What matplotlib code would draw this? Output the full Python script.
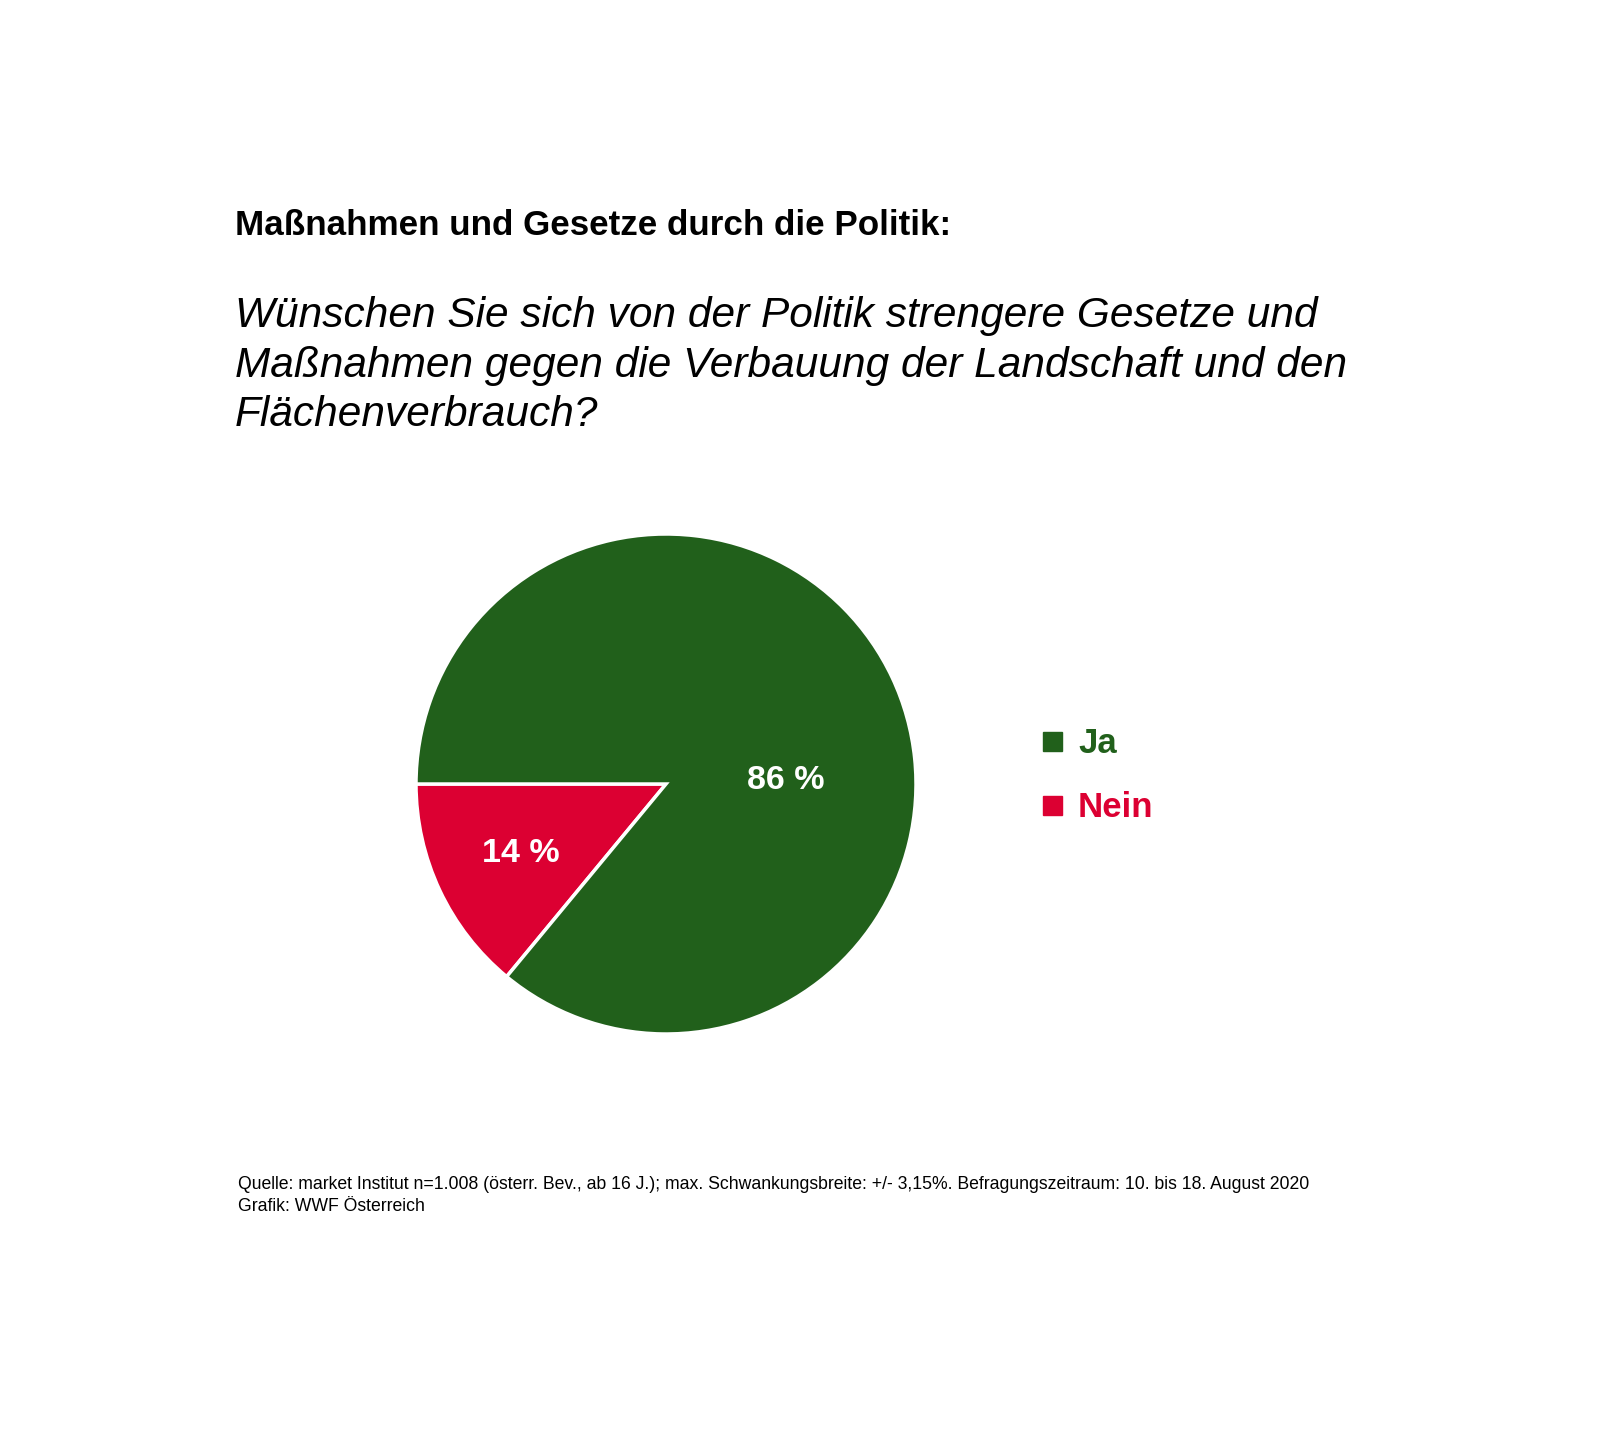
import matplotlib.pyplot as plt
from matplotlib.patches import Rectangle

plt.rcParams['font.family'] = ['Liberation Sans', 'DejaVu Sans']

# Daten
kategorien = ['Nein', 'Ja']
werte = [14, 86]
farben = ['#DC0032', '#21601B']
legende_reihenfolge = ['Ja', 'Nein']

titel = 'Maßnahmen und Gesetze durch die Politik:'
frage = ['Wünschen Sie sich von der Politik strengere Gesetze und',
         'Maßnahmen gegen die Verbauung der Landschaft und den',
         'Flächenverbrauch?']
quelle = ['Quelle: market Institut n=1.008 (österr. Bev., ab 16 J.); max. Schwankungsbreite: +/- 3,15%. '
          'Befragungszeitraum: 10. bis 18. August 2020',
          'Grafik: WWF Österreich']

W, H = 1600, 1432
fig = plt.figure(figsize=(W / 100, H / 100), dpi=100)
fig.patch.set_facecolor('white')


def fx(x):
    return x / W


def fy(y):
    return 1 - y / H


# Kreisdiagramm (Mitte ca. 666/784 px, Radius ca. 250 px)
cx, cy, r = 666, 784, 250
ax = fig.add_axes([fx(cx - r), fy(cy + r), 2 * r / W, 2 * r / H])
wedges, _ = ax.pie(werte, colors=farben, startangle=180, counterclock=True,
                   radius=1, wedgeprops=dict(edgecolor='white', linewidth=2.5))
ax.set_xlim(-1, 1)
ax.set_ylim(-1, 1)
ax.set_aspect('equal')
ax.axis('off')

# Beschriftungen in den Segmenten
label_pos = {'Ja': (0.48, 0.015), 'Nein': (-0.58, -0.28)}
for kat, wert in zip(kategorien, werte):
    x, y = label_pos[kat]
    ax.text(x, y, f'{wert} %', color='white', fontsize=24.5, fontweight='bold',
            ha='center', va='center')

# Titel und Frage
fig.text(fx(235), fy(235), titel, fontsize=25.2, fontweight='bold',
         ha='left', va='baseline')
for i, zeile in enumerate(frage):
    fig.text(fx(235), fy(327 + i * 49.5), zeile, fontsize=30.5, fontstyle='italic',
             ha='left', va='baseline')

# Legende
farbe_von = dict(zip(kategorien, farben))
for i, kat in enumerate(legende_reihenfolge):
    y0 = 732 + i * 64
    fig.add_artist(Rectangle((fx(1043), fy(y0 + 19)), 19 / W, 19 / H,
                             transform=fig.transFigure, color=farbe_von[kat]))
    fig.text(fx(1078), fy(y0 + 21), kat, color=farbe_von[kat], fontsize=25,
             fontweight='bold', ha='left', va='baseline')

# Quelle
for i, zeile in enumerate(quelle):
    fig.text(fx(238), fy(1189 + i * 22), zeile, fontsize=12.7,
             ha='left', va='baseline')

fig.savefig('out.png', dpi=100, facecolor='white')
